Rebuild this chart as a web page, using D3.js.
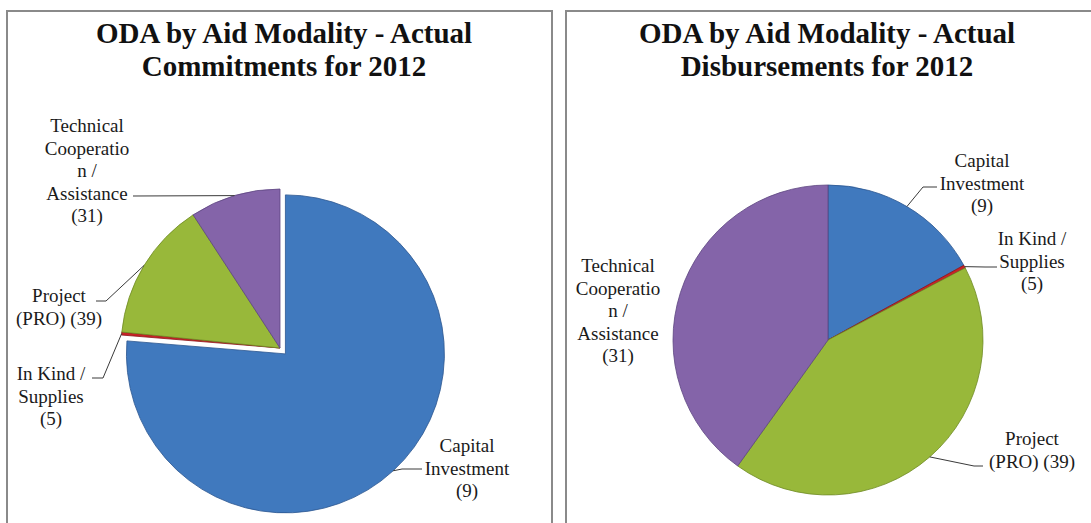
<!DOCTYPE html>
<html><head><meta charset="utf-8">
<script src="https://cdn.jsdelivr.net/npm/d3@7"></script>
</head><body style="margin:0"><svg id="c" width="1091" height="523"></svg>
<script>
// ---- data ----
const categories = ["Capital Investment (9)", "In Kind / Supplies (5)", "Project (PRO) (39)", "Technical Cooperation / Assistance (31)"];
const labelLines = [["Capital", "Investment", "(9)"], ["In Kind /", "Supplies", "(5)"], ["Project", "(PRO) (39)"], ["Technical", "Cooperatio", "n /", "Assistance", "(31)"]];
const commitments = [76.3, 0.3, 14.2, 9.2];
const disbursements = [17.0, 0.3, 42.6, 40.1];
const titleCommit = ["ODA by Aid Modality - Actual", "Commitments for 2012"];
const titleDisb = ["ODA by Aid Modality - Actual", "Disbursements for 2012"];
const colors = ["#4787d3", "#e0262c", "#a9cd40", "#936fbc"];
const strokes = ["#2b568f", "#8a1518", "#6f8a24", "#5d4580"];

// ---- layout ----
const FONT = "Liberation Serif";
const panels = [
  { x0: 7, x1: 552, titleX: 284, title: titleCommit, values: commitments,
    cx: 280, cy: 348, r: 159, explode: [8, 0, 0, 0],
    labels: [
      { x: 467, y: 452, leader: [[422, 469], [402, 469]] },
      { x: 51, y: 380, leader: [[92, 378], [103, 378]] },
      { x: 59, y: 302, leader: [[96, 301], [106, 301]] },
      { x: 87, y: 132, leader: [[133, 196]] }
    ] },
  { x0: 566, x1: 1111, titleX: 827, title: titleDisb, values: disbursements,
    cx: 828, cy: 340, r: 155, explode: [0, 0, 0, 0],
    labels: [
      { x: 982, y: 167, leader: [[937, 187], [923, 187]] },
      { x: 1032, y: 245, leader: [[997, 267], [985, 267]] },
      { x: 1032, y: 445, leader: [[983, 466], [974, 466]] },
      { x: 618, y: 272, leader: null }
    ] }
];

const svg = d3.select("#c");
svg.append("rect").attr("width", 1091).attr("height", 523).attr("fill", "#ffffff");
const defs = svg.append("defs");

panels.forEach((p, pi) => {
  const g = svg.append("g");
  // panel frame
  g.append("rect").attr("x", p.x0).attr("y", 11).attr("width", p.x1 - p.x0).attr("height", 540)
    .attr("fill", "#ffffff").attr("stroke", "#8a8a8a").attr("stroke-width", 2);

  // title (one text element per line)
  p.title.forEach((line, i) => g.append("text")
    .attr("x", p.titleX).attr("y", 43 + i * 33).attr("text-anchor", "middle")
    .attr("font-family", FONT).attr("font-weight", "bold").attr("font-size", 29).attr("fill", "#111")
    .text(line));

  // gradients
  colors.forEach((c, i) => {
    const gr = defs.append("radialGradient").attr("id", `g${pi}_${i}`)
      .attr("gradientUnits", "userSpaceOnUse").attr("cx", p.cx).attr("cy", p.cy).attr("r", p.r);
    gr.append("stop").attr("offset", "0%").attr("stop-color", d3.color(c).darker(0.08));
    gr.append("stop").attr("offset", "80%").attr("stop-color", c);
    gr.append("stop").attr("offset", "96%").attr("stop-color", d3.color(c).brighter(0.12));
    gr.append("stop").attr("offset", "100%").attr("stop-color", d3.color(c).darker(0.3));
  });

  const pie = d3.pie().sort(null).value(d => d)(p.values);
  const arc = d3.arc().innerRadius(0).outerRadius(p.r);
  const pg = g.append("g").attr("transform", `translate(${p.cx},${p.cy})`);

  const offset = (d, i) => {
    const m = (d.startAngle + d.endAngle) / 2;
    return [Math.sin(m) * p.explode[i], -Math.cos(m) * p.explode[i]];
  };

  pg.selectAll("path.slice").data(pie).join("path").attr("class", "slice")
    .attr("d", arc)
    .attr("transform", (d, i) => { const o = offset(d, i); return `translate(${o[0]},${o[1]})`; })
    .attr("fill", (d, i) => `url(#g${pi}_${i})`)
    .attr("stroke", (d, i) => strokes[i]).attr("stroke-width", 0.8).attr("stroke-linejoin", "round");

  // leader lines
  pie.forEach((d, i) => {
    const L = p.labels[i];
    if (!L.leader) return;
    const m = (d.startAngle + d.endAngle) / 2;
    const o = offset(d, i);
    const end = [p.cx + o[0] + Math.sin(m) * p.r, p.cy + o[1] - Math.cos(m) * p.r];
    const pts = L.leader.concat([end]);
    g.append("path").attr("d", d3.line()(pts)).attr("fill", "none")
      .attr("stroke", "#3a3a3a").attr("stroke-width", 1);
  });

  // labels (one text element per line)
  p.labels.forEach((L, i) => {
    labelLines[i].forEach((ln, j) => g.append("text")
      .attr("x", L.x).attr("y", L.y + j * 22.5).attr("text-anchor", "middle")
      .attr("font-family", FONT).attr("font-size", 19).attr("fill", "#1a1a1a")
      .text(ln));
  });
});
</script></body></html>
